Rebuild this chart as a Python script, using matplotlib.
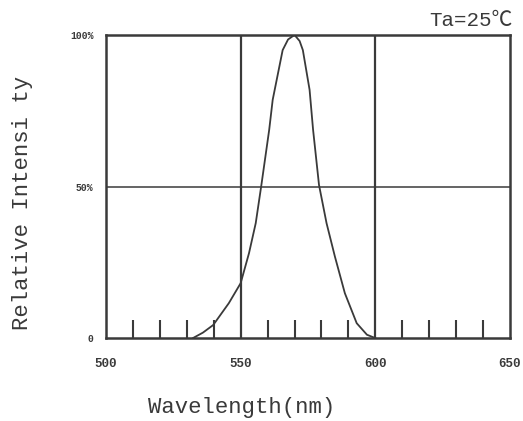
import matplotlib
matplotlib.use("Agg")
import matplotlib.pyplot as plt
from matplotlib.ticker import MultipleLocator

plt.rcParams["font.family"] = ["Liberation Mono", "Noto Sans CJK SC", "DejaVu Sans"]

# spectrum
wavelength = [532.3, 536.0, 539.8, 545.6, 550.0, 553.1, 555.6, 557.7, 560.6, 561.9,
              565.6, 567.6, 570.0, 571.9, 573.1, 575.6, 576.9, 579.1, 581.9, 585.0,
              588.7, 593.1, 596.9, 600.0]
intensity = [0.0, 1.8, 4.3, 11.5, 18.1, 28.0, 37.9, 50.5, 68.7, 78.6,
             95.0, 98.5, 100.0, 98.0, 95.0, 81.9, 68.7, 50.5, 37.9, 26.9,
             14.8, 4.9, 1.1, 0.0]
x_ticks = [500, 550, 600, 650]
y_ticks = [0, 50, 100]
y_labels = ["0", "50%", "100%"]

ink = "#3a3a3a"
fig = plt.figure(figsize=(5.23, 4.21), dpi=100)
ax = fig.add_axes([0.2027, 0.197, 0.7723, 0.72])

ax.plot(wavelength, intensity, color=ink, lw=1.3)
for xv in (550, 600):
    ax.axvline(xv, color=ink, lw=1.6)
ax.axhline(50, color=ink, lw=1.1)

ax.set_xlim(500, 650)
ax.set_ylim(0, 100)
ax.set_xticks(x_ticks)
ax.set_yticks(y_ticks)
ax.set_yticklabels(y_labels)
ax.xaxis.set_minor_locator(MultipleLocator(10))
ax.tick_params(axis="x", which="major", length=0, pad=14, labelsize=9, colors=ink)
ax.tick_params(axis="x", which="minor", direction="in", length=13, width=1.5, color=ink)
ax.tick_params(axis="y", length=0, pad=9, labelsize=7, colors=ink)
for lab in ax.get_xticklabels():
    lab.set_fontweight("bold")
for lab in ax.get_yticklabels():
    lab.set_fontweight("bold")
for s in ax.spines.values():
    s.set_color(ink)
    s.set_linewidth(1.8)

fig.text(242 / 523, 1 - 408 / 421, "Wavelength(nm)", ha="center", va="center",
         fontsize=16, color=ink)
fig.text(23 / 523, 1 - 203 / 421, "Relative Intensi ty", ha="center", va="center",
         rotation=90, fontsize=16, color=ink)
fig.text(0.98, 1 - 21 / 421, "Ta=25℃", ha="right", va="center", fontsize=15, color=ink,
         family=["Liberation Mono", "Noto Sans CJK SC"])

fig.savefig("out.png", dpi=100)
